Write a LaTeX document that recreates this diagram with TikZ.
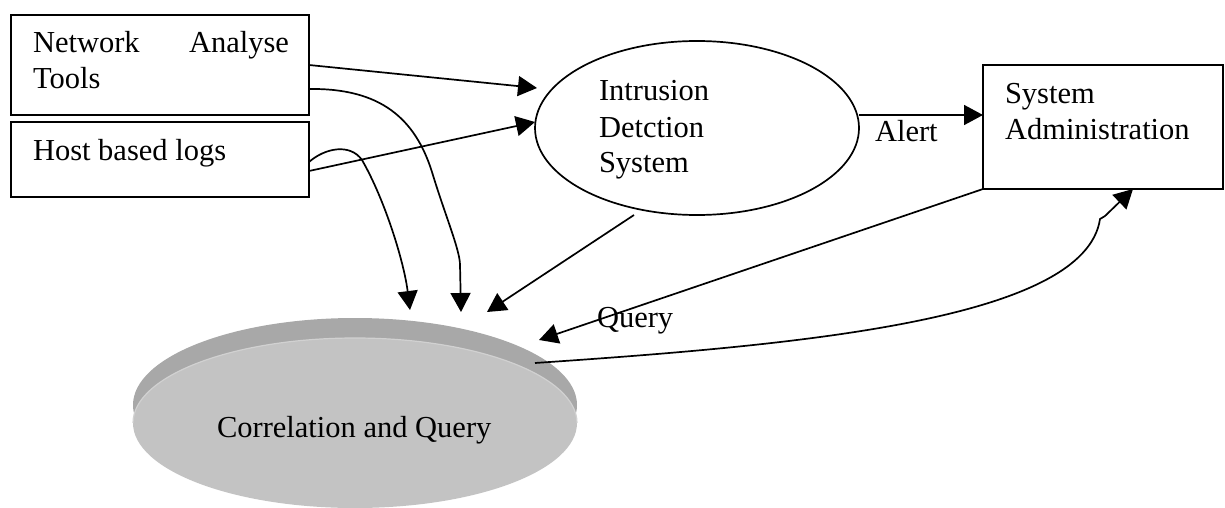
\documentclass[tikz,border=0pt]{standalone}
\usepackage{fontspec}
\setmainfont{Liberation Serif}
\usetikzlibrary{arrows.meta,calc,shapes.geometric}
\definecolor{bandgray}{gray}{0.66}
\definecolor{facegray}{gray}{0.765}
\definecolor{rimgray}{gray}{0.82}
\begin{document}
\begin{tikzpicture}[x=1pt,y=-1pt,
  every node/.style={inner sep=0pt,outer sep=0pt},
  txt/.style={font=\fontsize{30.5}{36}\selectfont, anchor=base west},
  block/.style={draw, rectangle, line width=1.7pt},
  oval/.style={draw, ellipse, line width=1.7pt},
  link/.style={line width=1.7pt, line join=round, -{Triangle[length=19pt,width=20pt]}}]
\useasboundingbox (0,0) rectangle (1225,508);

% source boxes
\node[block, minimum width=298pt, minimum height=100pt] (nat) at (160,65) {};
\node[block, minimum width=298pt, minimum height=75pt] (hbl) at (160,159.5) {};
\node[txt] (natlabel) at (33,53) {\parbox[t]{256pt}{Network\hfill Analyse\\Tools}};
\node[txt] (hbllabel) at (33,160) {Host based logs};

% intrusion detection system
\node[oval, minimum width=324pt, minimum height=174pt] (ids) at (697,128) {};
\node[txt] (idslabel) at (599,101) {\parbox[t]{200pt}{Intrusion\\Detction\\System}};

% system administration
\node[block, minimum width=240pt, minimum height=124pt] (sa) at (1103,127) {};
\node[txt] (salabel) at (1005,103) {\parbox[t]{215pt}{System\\Administration}};

% correlation store: darker rim band behind a lighter face
\fill[bandgray] (355,405) ellipse [x radius=222pt, y radius=87pt];
\node[ellipse, fill=facegray, minimum width=444pt, minimum height=170pt] (corr) at (355,423) {};
\draw[rimgray, line width=1.2pt] (corr.west) arc[start angle=180, end angle=0, x radius=222pt, y radius=85pt];
\node[txt] (corrlabel) at (217,437) {Correlation and Query};

% straight connectors
\draw[link] ($(nat.north east)+(0,50)$) -- ($(ids.west)+(2,-40)$);
\draw[link] ($(hbl.north east)+(0,49)$) -- ($(ids.west)+(0,-6)$);
\draw[link] ($(ids.south)+(-63,0)$) -- ($(corr.north)+(132,-26)$);
\draw[link] ($(ids.east)+(0,-13)$) -- ($(sa.west)+(0,-12)$);
\node[txt] (alert) at (875,142) {Alert};
\draw[link] (sa.south west) -- ($(corr.north)+(184,2)$);
\node[txt] (query) at (597,327) {Query};

% curved connectors
\draw[link] ($(nat.north east)+(0,74)$) .. controls (380,88) and (415,118) .. (432,172)
  .. controls (445,215) and (460,250) .. (460,265) -- ($(corr.north)+(106,-26)$);
\draw[link] ($(hbl.north east)+(0,40)$) .. controls (325,148) and (350,143) .. (362,160)
  .. controls (385,200) and (404,262) .. ($(corr.north)+(55,-28)$);
\draw[link] ($(corr.north)+(180,25)$) .. controls (800,345) and (1085,320) .. (1100,219)
  -- (1105,216) -- ($(sa.south)+(30,0)$);
\end{tikzpicture}
\end{document}
